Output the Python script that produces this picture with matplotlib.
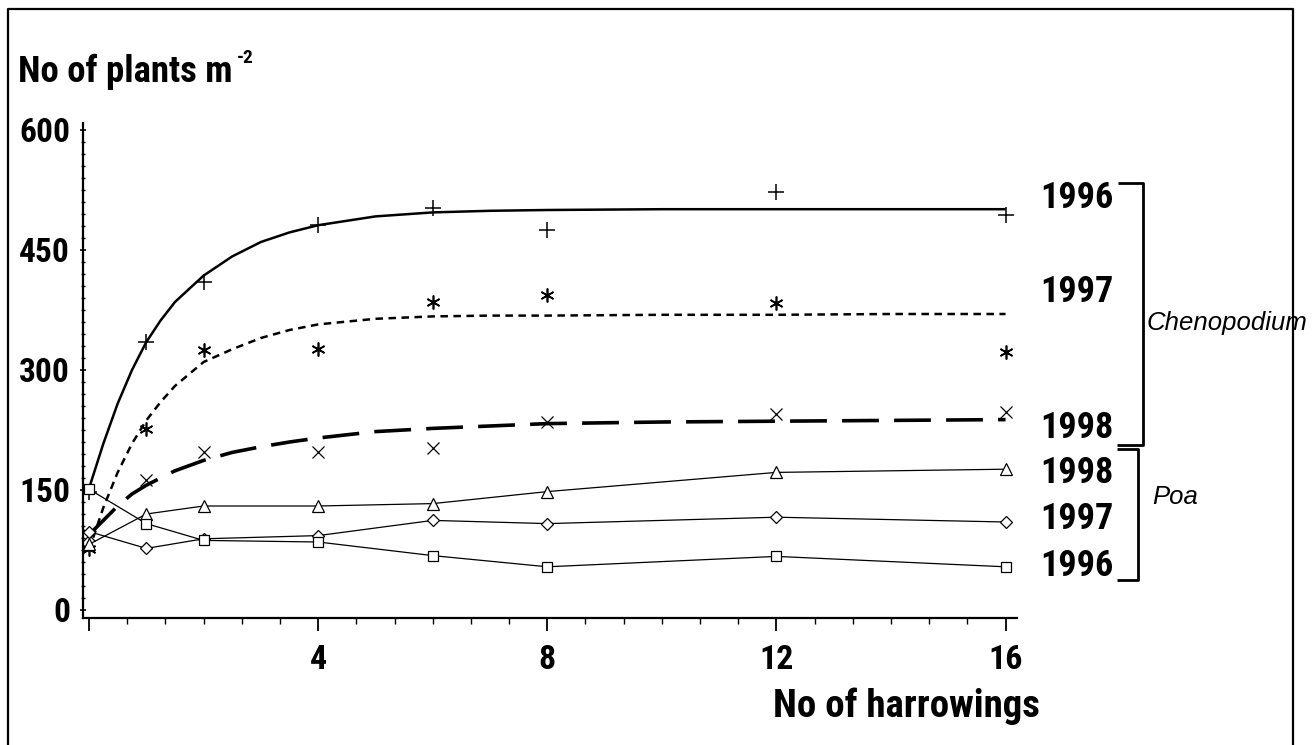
import matplotlib
matplotlib.use("Agg")
import matplotlib.pyplot as plt
from matplotlib.lines import Line2D
from matplotlib.ticker import MultipleLocator, FixedLocator

W, H = 1315, 745

# nombre de hersages (points mesurés)
harrow = [0, 1, 2, 4, 6, 8, 12, 16]

# Chenopodium (points seuls)
cheno_1996 = [148, 335, 410, 481, 502, 475, 523, 494]
cheno_1997 = [76, 226, 325, 326, 385, 394, 384, 323]
cheno_1998 = [94, 162, 198, 197, 202, 235, 245, 247]

# Poa (points reliés)
poa_1998 = [82, 120, 130, 130, 133, 148, 172, 176]
poa_1997 = [98, 77, 89, 93, 112, 108, 116, 110]
poa_1996 = [151, 108, 87, 85, 68, 54, 67, 54]

# courbes ajustées
fit_x = [0, 0.25, 0.5, 0.75, 1, 1.25, 1.5, 2, 2.5, 3, 3.5, 4, 5, 6, 7, 8, 10, 12, 14, 16]
fit_1996 = [152, 208, 258, 300, 335, 362, 385, 418, 442, 460, 472, 481, 492, 497, 499, 500, 501, 501, 501, 501]
fit_1997 = [75, 128, 172, 208, 237, 260, 280, 310, 326, 340, 350, 357, 364, 367, 368, 368, 369, 369, 370, 370]
fit_1998 = [94, 112, 130, 145, 156, 165, 174, 187, 197, 204, 210, 215, 223, 227, 230, 233, 235, 236, 237, 238]

y_ticks = [0, 150, 300, 450, 600]
x_ticks = [0, 4, 8, 12, 16]
x_labels = ["", "4", "8", "12", "16"]

FONT = ["Roboto Condensed", "PT Sans Narrow", "DejaVu Sans"]
ITAL = ["Liberation Sans", "DejaVu Sans"]
plt.rcParams["font.family"] = FONT


def fx(x):
    return x / W


def fy(y):
    return 1 - y / H


fig = plt.figure(figsize=(W / 100, H / 100), dpi=100)
ax = fig.add_axes([fx(83.3), fy(618), (1017 - 83.3) / W, (618 - 123) / H])

# courbes Chenopodium
ax.plot(fit_x, fit_1996, color="black", lw=1.8, solid_capstyle="butt")
ax.plot(fit_x, fit_1997, color="black", lw=1.8, linestyle=(0, (3.0, 2.2)))
ax.plot(fit_x, fit_1998, color="black", lw=2.6, linestyle=(0, (10.2, 4.2)))

ax.plot(harrow, cheno_1996, linestyle="none", marker="+", ms=11, mew=1.1, color="black")
ax.plot(harrow, cheno_1997, linestyle="none", marker=(6, 2, 0), ms=10, mew=1.2, color="black")
ax.plot(harrow, cheno_1998, linestyle="none", marker="x", ms=9, mew=0.9, color="black")

# Poa
for vals, mk, ms in [(poa_1998, "^", 8), (poa_1997, "D", 6.5), (poa_1996, "s", 7)]:
    ax.plot(harrow, vals, color="black", lw=0.9, marker=mk, ms=ms,
            mfc="white", mec="black", mew=0.9)

ax.set_xlim(-0.1, 16.2)
ax.set_ylim(-10, 608.75)
for s in ["top", "right"]:
    ax.spines[s].set_visible(False)
ax.spines["left"].set_linewidth(1.6)
ax.spines["bottom"].set_linewidth(1.6)

ax.yaxis.set_major_locator(FixedLocator(y_ticks))
ax.yaxis.set_minor_locator(MultipleLocator(15))
ax.xaxis.set_major_locator(FixedLocator(x_ticks))
ax.xaxis.set_minor_locator(MultipleLocator(2 / 3))
ax.set_xticklabels(x_labels)

ax.tick_params(axis="y", which="major", direction="inout", length=5, width=1.2,
               pad=7, labelsize=24)
ax.tick_params(axis="y", which="minor", direction="inout", length=3.5, width=1.0)
ax.tick_params(axis="x", which="major", direction="out", length=9, width=1.3,
               pad=10, labelsize=24.5)
ax.tick_params(axis="x", which="minor", direction="out", length=4.5, width=1.0)
for lab in ax.get_xticklabels() + ax.get_yticklabels():
    lab.set_fontweight("bold")

# titres des axes
t = fig.text(fx(18), fy(72), "No of plants m", fontsize=26.5, fontweight="bold",
             ha="left", va="center")
ax.annotate("-2", xy=(1, 1), xycoords=t, xytext=(3, -3), textcoords="offset points",
            fontsize=14, fontweight="bold", ha="left", va="center", annotation_clip=False)
fig.text(fx(1040), fy(706), "No of harrowings", fontsize=28, fontweight="bold",
         ha="right", va="center")

# étiquettes des années
year_labels = ["1996", "1997", "1998", "1998", "1997", "1996"]
year_y = [198, 292, 428, 473, 519, 566]
for lab, yy in zip(year_labels, year_y):
    fig.text(fx(1040), fy(yy), lab, fontsize=26, fontweight="bold", ha="left", va="center")

# accolades
bk = dict(color="black", lw=2.0, transform=fig.transFigure, solid_capstyle="butt")
fig.add_artist(Line2D([fx(1118), fx(1143), fx(1143), fx(1117)],
                      [fy(183), fy(183), fy(445), fy(445)], **bk))
fig.add_artist(Line2D([fx(1117), fx(1138), fx(1138), fx(1117)],
                      [fy(449), fy(449), fy(580), fy(580)], **bk))
fig.text(fx(1147), fy(323), "Chenopodium", fontsize=18.5, style="italic",
         family=ITAL, ha="left", va="center")
fig.text(fx(1152), fy(497), "Poa", fontsize=18.5, style="italic",
         family=ITAL, ha="left", va="center")

# cadre
fr = dict(color="black", lw=1.6, transform=fig.transFigure)
fig.add_artist(Line2D([fx(8), fx(8), fx(1293), fx(1293)],
                      [fy(745), fy(9), fy(9), fy(745)], **fr))

fig.savefig("out.png", dpi=100)
